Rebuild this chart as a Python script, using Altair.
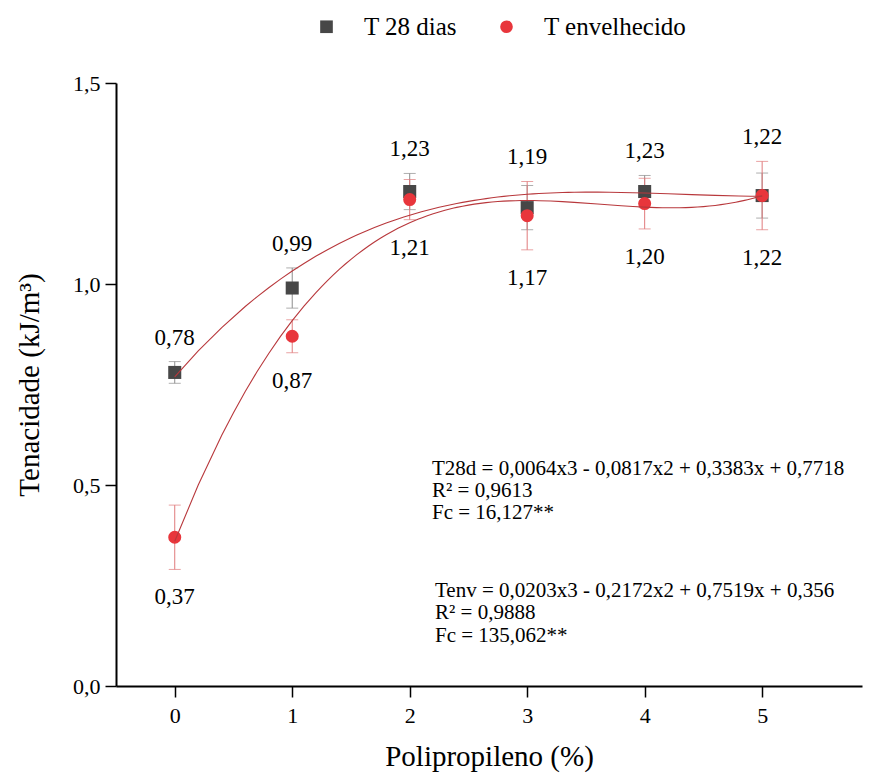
import altair as alt
import pandas as pd

# Polypropylene content (%)
pp = [0, 1, 2, 3, 4, 5]

# Toughness (kJ/m³): mean and error bar half-width for each condition
t28 = [0.78, 0.99, 1.23, 1.19, 1.23, 1.22]
t28_err = [0.027, 0.05, 0.045, 0.055, 0.04, 0.056]
tenv = [0.37, 0.87, 1.21, 1.17, 1.20, 1.22]
tenv_err = [0.08, 0.041, 0.05, 0.085, 0.063, 0.085]

series = ["T 28 dias", "T envelhecido"]

eq_t28 = ["T28d = 0,0064x3 - 0,0817x2 + 0,3383x + 0,7718", "R² = 0,9613", "Fc = 16,127**"]
eq_tenv = ["Tenv = 0,0203x3 - 0,2172x2 + 0,7519x + 0,356", "R² = 0,9888", "Fc = 135,062**"]

FONT = "'Liberation Serif', 'DejaVu Serif', serif"
marker_colors = ["#474747", "#e8363c"]
bar_colors = ["#8c8c8c", "#e07a7c"]
shapes = ["square", "circle"]
fit_color = "#b8383c"


def fmt(v):
    return f"{v:.2f}".replace(".", ",")


rows = []
for i, x in enumerate(pp):
    top = max(t28[i] + t28_err[i], tenv[i] + tenv_err[i])
    rows.append(dict(serie=series[0], x=x, y=t28[i], lo=t28[i] - t28_err[i],
                     hi=t28[i] + t28_err[i], label=fmt(t28[i]), anchor=top))
    rows.append(dict(serie=series[1], x=x, y=tenv[i], lo=tenv[i] - tenv_err[i],
                     hi=tenv[i] + tenv_err[i], label=fmt(tenv[i]),
                     anchor=tenv[i] - tenv_err[i]))
df = pd.DataFrame(rows)

x_axis = alt.Axis(values=pp, title="Polipropileno (%)", grid=False,
                  tickSize=11, tickWidth=1.5, tickColor="black",
                  domainColor="black", domainWidth=2,
                  labelFont=FONT, labelFontSize=22, labelColor="black", labelPadding=8,
                  titleFont=FONT, titleFontSize=29, titleFontWeight="normal",
                  titleColor="black", titlePadding=16)
y_axis = alt.Axis(values=[0, 0.5, 1.0, 1.5], title="Tenacidade (kJ/m³)", grid=False,
                  tickSize=11, tickWidth=1.5, tickColor="black",
                  domainColor="black", domainWidth=2,
                  labelExpr="replace(format(datum.value, '.1f'), '.', ',')",
                  labelFont=FONT, labelFontSize=22, labelColor="black", labelPadding=5,
                  titleFont=FONT, titleFontSize=29, titleFontWeight="normal",
                  titleColor="black", titlePadding=28)

x_scale = alt.Scale(domain=[-0.5, 5.85], nice=False, zero=False)
y_scale = alt.Scale(domain=[0, 1.5], nice=False)


def xenc():
    return alt.X("x:Q", scale=x_scale, axis=x_axis)


def yenc(field):
    return alt.Y(f"{field}:Q", scale=y_scale, axis=y_axis)


base = alt.Chart(df)

# error bars, one colour per condition
bars = [
    base.transform_filter(alt.datum.serie == s)
    .mark_errorbar(ticks=True, size=12, thickness=1, color=c)
    .encode(x=xenc(), y=yenc("lo"), y2="hi:Q")
    for s, c in zip(series, bar_colors)
]

points = base.mark_point(filled=True, opacity=1, size=170).encode(
    x=xenc(),
    y=yenc("y"),
    color=alt.Color("serie:N", scale=alt.Scale(domain=series, range=marker_colors),
                    legend=alt.Legend(title=None, orient="none", direction="horizontal",
                                      legendX=198, legendY=-69, padding=0,
                                      labelFont=FONT, labelFontSize=25, labelColor="black",
                                      labelOffset=25, columnPadding=36,
                                      symbolSize=160, symbolStrokeWidth=0)),
    shape=alt.Shape("serie:N", scale=alt.Scale(domain=series, range=shapes)),
)

# third-order polynomial fits
fits = base.transform_regression(
    "x", "y", method="poly", order=3, groupby=["serie"], extent=[0, 5]
).mark_line(color=fit_color, strokeWidth=1.1).encode(
    x=xenc(), y=yenc("y"), detail="serie:N"
)

labels_top = base.transform_filter(alt.datum.serie == series[0]).mark_text(
    font=FONT, fontSize=23, color="black", baseline="middle", dy=-24
).encode(x=xenc(), y=yenc("anchor"), text="label:N")

labels_bottom = base.transform_filter(alt.datum.serie == series[1]).mark_text(
    font=FONT, fontSize=23, color="black", baseline="middle", dy=28
).encode(x=xenc(), y=yenc("anchor"), text="label:N")

# regression equations
note_df = pd.DataFrame({"k": [0]})
notes = []
for lines, x0, ys in [(eq_t28, 316, [386, 408, 430]), (eq_tenv, 319, [508, 530, 553])]:
    for line, yy in zip(lines, ys):
        notes.append(
            alt.Chart(note_df).mark_text(font=FONT, fontSize=21, color="black",
                                         align="left", baseline="middle")
            .encode(x=alt.value(x0), y=alt.value(yy), text=alt.value(line))
        )

chart = alt.layer(*bars, points, fits, labels_top, labels_bottom, *notes).properties(
    width=746, height=603,
    autosize=alt.AutoSizeParams(type="none"),
    padding={"left": 116, "top": 83, "right": 17, "bottom": 95},
).configure(font=FONT).configure_view(strokeWidth=0)

chart.save("out.html", embed_options={"renderer": "svg", "actions": False})
